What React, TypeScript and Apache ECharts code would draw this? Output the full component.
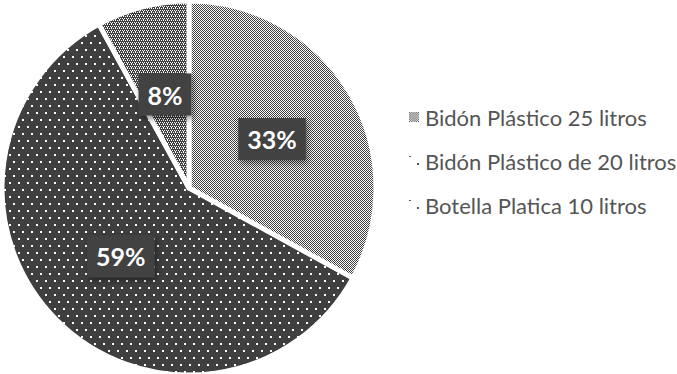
import React, { useEffect, useRef } from "react";
import * as echarts from "echarts";

const categories = [
  "Bidón Plástico 25 litros",
  "Bidón Plástico de 20 litros",
  "Botella Platica 10 litros",
];
const values = [33, 59, 8];

const DARK = "#3f3f3f";

function makeCanvas(w: number, h: number, draw: (ctx: CanvasRenderingContext2D) => void) {
  const c = document.createElement("canvas");
  c.width = w;
  c.height = h;
  const ctx = c.getContext("2d")!;
  draw(ctx);
  return c;
}

function buildPatterns() {
  const checker = makeCanvas(2, 2, (ctx) => {
    ctx.fillStyle = "#ffffff";
    ctx.fillRect(0, 0, 2, 2);
    ctx.fillStyle = DARK;
    ctx.fillRect(0, 0, 1, 1);
    ctx.fillRect(1, 1, 1, 1);
  });
  const dots = makeCanvas(9, 14, (ctx) => {
    ctx.fillStyle = DARK;
    ctx.fillRect(0, 0, 9, 14);
    ctx.fillStyle = "#ffffff";
    ctx.fillRect(0, 0, 2, 2);
    ctx.fillRect(4, 7, 2, 2);
  });
  const dense = makeCanvas(4, 4, (ctx) => {
    ctx.fillStyle = DARK;
    ctx.fillRect(0, 0, 4, 4);
    ctx.fillStyle = "#ffffff";
    ctx.fillRect(1, 0, 1, 1);
    ctx.fillRect(3, 0, 1, 1);
    ctx.fillRect(0, 2, 1, 1);
    ctx.fillRect(2, 2, 1, 1);
    ctx.fillRect(3, 3, 1, 1);
  });
  const icon1 = makeCanvas(9, 9, (ctx) => {
    ctx.fillStyle = "#ffffff";
    ctx.fillRect(0, 0, 9, 9);
    ctx.fillStyle = "#555555";
    for (let y = 0; y < 9; y++)
      for (let x = 0; x < 9; x++) if ((x + y) % 2 === 0) ctx.fillRect(x, y, 1, 1);
  });
  const iconDots = makeCanvas(10, 10, (ctx) => {
    ctx.fillStyle = "#555555";
    ctx.fillRect(0, 0, 2, 1);
    ctx.fillRect(8, 7, 2, 2);
  });
  return { checker, dots, dense, icon1: icon1.toDataURL(), iconDots: iconDots.toDataURL() };
}

export default function App() {
  const ref = useRef<HTMLDivElement>(null);
  useEffect(() => {
    if (!ref.current) return;
    const chart = echarts.init(ref.current, null, { renderer: "svg" });
    const p = buildPatterns();
    const fills = [p.checker, p.dots, p.dense];
    const icons = [p.icon1, p.iconDots, p.iconDots];
    chart.setOption({
      animation: false,
      legend: {
        orient: "vertical",
        left: 404,
        top: 100,
        itemWidth: 10,
        itemHeight: 10,
        itemGap: 20,
        selectedMode: false,
        textStyle: {
          fontFamily: "Lato",
          fontSize: 22,
          color: "#555555",
          lineHeight: 24,
          padding: [0, 0, 0, 1],
        },
        data: categories.map((c, i) => ({ name: c, icon: "image://" + icons[i] })),
      },
      series: [
        {
          type: "pie",
          center: [189, 188],
          radius: [0, 187],
          startAngle: 90,
          clockwise: true,
          silent: true,
          itemStyle: { borderColor: "#ffffff", borderWidth: 5 },
          label: {
            position: "inside",
            formatter: "{d}%",
            fontFamily: "Lato",
            fontWeight: "bold",
            fontSize: 25,
            color: "#ffffff",
            backgroundColor: "#424242",
            padding: [9, 9, 8, 9],
            shadowColor: "rgba(0,0,0,0.45)",
            shadowBlur: 6,
            shadowOffsetX: 2,
            shadowOffsetY: 3,
          },
          labelLine: { show: false },
          data: categories.map((c, i) => ({
            name: c,
            value: values[i],
            itemStyle: { color: { image: fills[i], repeat: "repeat" } },
          })),
        },
      ],
    });
    return () => chart.dispose();
  }, []);
  return (
    <div
      ref={ref}
      style={{ position: "absolute", left: 0, top: 0, width: 677, height: 374 }}
    />
  );
}
